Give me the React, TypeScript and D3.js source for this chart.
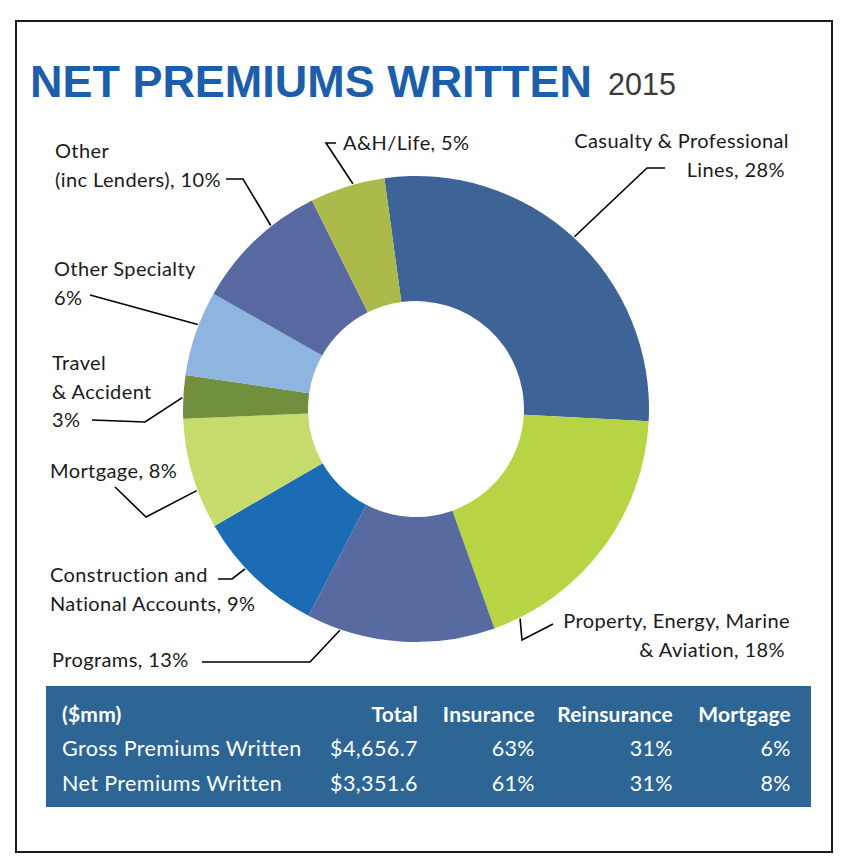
import React from "react";
import * as d3 from "d3";

// ---------- data ----------
const categories = [
  "Casualty & Professional Lines",
  "Property, Energy, Marine & Aviation",
  "Programs",
  "Construction and National Accounts",
  "Mortgage",
  "Travel & Accident",
  "Other Specialty",
  "Other (inc Lenders)",
  "A&H/Life",
];
const shares = [28.0, 18.7, 13.1, 9.0, 7.7, 3.0, 5.9, 9.4, 5.2];
const colors = [
  "#3e6396",
  "#b6d443",
  "#586ba0",
  "#1b6cb5",
  "#c5dc6d",
  "#718f3c",
  "#8eb4e0",
  "#5769a0",
  "#abba4b",
];
const labelLines = [
  ["Casualty & Professional", "Lines, 28%"],
  ["Property, Energy, Marine", "& Aviation, 18%"],
  ["Programs, 13%"],
  ["Construction and", "National Accounts, 9%"],
  ["Mortgage, 8%"],
  ["Travel", "& Accident", "3%"],
  ["Other Specialty", "6%"],
  ["Other", "(inc Lenders), 10%"],
  ["A&H/Life, 5%"],
];

const tableHeader = ["($mm)", "Total", "Insurance", "Reinsurance", "Mortgage"];
const tableRowNames = ["Gross Premiums Written", "Net Premiums Written"];
const tableTotals = ["$4,656.7", "$3,351.6"];
const tableInsurance = ["63%", "61%"];
const tableReinsurance = ["31%", "31%"];
const tableMortgage = ["6%", "8%"];

// ---------- layout ----------
const W = 852;
const H = 867;
const cx = 416;
const cy = 409;
const rOuter = 233;
const rInner = 108;
const startDeg = -7.8;

// label layout: text anchor position, alignment, leader attach fraction, elbow points
const labelLayout = [
  { x: 789, y: 148, anchor: "end", alignLast: 785, t: 0.5, elbow: [[665, 168], [647, 168]] },
  { x: 790, y: 628, anchor: "end", alignLast: 785, t: 0.9, elbow: [[553, 624], [522, 640]] },
  { x: 52, y: 667, anchor: "start", t: 0.82, elbow: [[202, 662], [310, 662]] },
  { x: 50, y: 582, anchor: "start", t: 0.6, elbow: [[218, 579], [232, 579]] },
  { x: 50, y: 478, anchor: "start", t: 0.35, elbow: [[115, 487], [146, 517]] },
  { x: 52, y: 370, anchor: "start", t: 0.48, elbow: [[92, 420], [145, 422]] },
  { x: 54, y: 276, anchor: "start", t: 0.6, elbow: [[90, 295]] },
  { x: 55, y: 158, anchor: "start", t: 0.65, elbow: [[226, 179], [243, 179]] },
  { x: 343, y: 150, anchor: "start", t: 0.58, elbow: [[336, 143], [326, 143]] },
];
const lineH = 28.5;
const labelFont = "Lato, 'Open Sans', sans-serif";

export default function App() {
  const pie = d3
    .pie<number>()
    .sort(null)
    .value((d) => d)
    .startAngle((startDeg * Math.PI) / 180)
    .endAngle((startDeg * Math.PI) / 180 + 2 * Math.PI);
  const arcs = pie(shares);
  const arc = d3.arc<d3.PieArcDatum<number>>().innerRadius(rInner).outerRadius(rOuter);

  const line = d3.line();

  // table column scale (right edges)
  const colX = d3.scaleOrdinal<string, number>().domain(tableHeader).range([62, 418, 535, 673, 791]);

  return (
    <svg width={W} height={H} style={{ display: "block", position: "absolute", left: 0, top: 0 }}>
      <rect x={0} y={0} width={W} height={H} fill="#fff" />
      <rect x={16} y={21} width={816} height={831} fill="none" stroke="#1a1a1a" strokeWidth={2} />

      {/* title */}
      <text
        x={30}
        y={97}
        fontFamily="'Liberation Sans', Arial, sans-serif"
        fontWeight="bold"
        fontSize={45}
        fill="#1d5eaa"
        textLength={562}
        lengthAdjust="spacingAndGlyphs"
      >
        NET PREMIUMS WRITTEN
      </text>
      <text x={608} y={95} fontFamily="'Liberation Sans', Arial, sans-serif" fontSize={30.5} fill="#3a3a3a">
        2015
      </text>

      {/* donut */}
      <g transform={`translate(${cx},${cy})`}>
        {arcs.map((a, i) => (
          <path key={i} d={arc(a) || ""} fill={colors[i]} />
        ))}
      </g>

      {/* leader lines */}
      {arcs.map((a, i) => {
        const L = labelLayout[i];
        const ang = a.startAngle + (a.endAngle - a.startAngle) * L.t;
        const px = cx + Math.sin(ang) * (rOuter + 1);
        const py = cy - Math.cos(ang) * (rOuter + 1);
        const pts: [number, number][] = [...(L.elbow as [number, number][]), [px, py]];
        return <path key={i} d={line(pts) || ""} fill="none" stroke="#000" strokeWidth={1.6} />;
      })}

      {/* labels */}
      {labelLines.map((lines, i) => {
        const L = labelLayout[i];
        return (
          <text
            key={i}
            fontFamily={labelFont}
            fontSize={20}
            letterSpacing={0.4}
            fill="#1a1a1a"
            textAnchor={L.anchor}
          >
            {lines.map((s, j) => (
              <tspan
                key={j}
                x={L.alignLast !== undefined && j === lines.length - 1 && lines.length > 1 ? L.alignLast : L.x}
                y={L.y + j * lineH}
              >
                {s}
              </tspan>
            ))}
          </text>
        );
      })}

      {/* table */}
      <rect x={46} y={686} width={765} height={121} fill="#2d6695" />
      {tableHeader.map((h, i) => (
        <text
          key={h}
          x={colX(h)}
          y={722}
          textAnchor={i === 0 ? "start" : "end"}
          fontFamily={labelFont}
          fontWeight="bold"
          fontSize={21}
          letterSpacing={0.2}
          fill="#fff"
        >
          {h}
        </text>
      ))}
      {tableRowNames.map((r, ri) => {
        const y = ri === 0 ? 756 : 791;
        const vals = [r, tableTotals[ri], tableInsurance[ri], tableReinsurance[ri], tableMortgage[ri]];
        return vals.map((v, ci) => (
          <text
            key={`${ri}-${ci}`}
            x={colX(tableHeader[ci])}
            y={y}
            textAnchor={ci === 0 ? "start" : "end"}
            fontFamily={labelFont}
            fontSize={21.5}
            letterSpacing={0.4}
            fill="#fff"
          >
            {v}
          </text>
        ));
      })}
    </svg>
  );
}
